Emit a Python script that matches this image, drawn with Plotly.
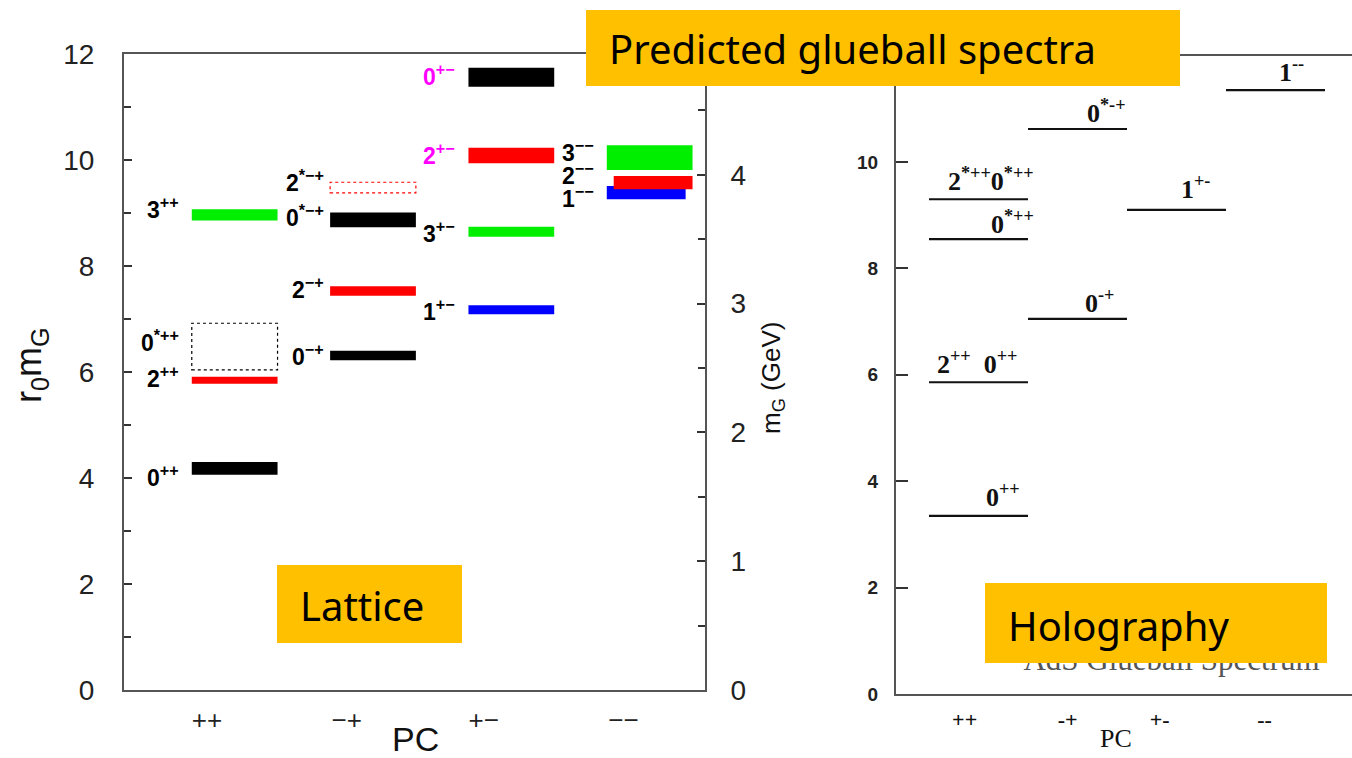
import plotly.graph_objects as go

# ---------------- data ----------------
pc_categories = ["++", "−+", "+−", "−−"]
pc_categories_holo = ["++", "-+", "+-", "--"]

# Lattice spectrum (r0 mG), solid bars: column index, lower and upper edge
lat_labels = ["0<sup>++</sup>", "2<sup>++</sup>", "3<sup>++</sup>",
              "0<sup>−+</sup>", "2<sup>−+</sup>", "0<sup>*−+</sup>",
              "1<sup>+−</sup>", "3<sup>+−</sup>", "2<sup>+−</sup>", "0<sup>+−</sup>",
              "1<sup>−−</sup>", "2<sup>−−</sup>", "3<sup>−−</sup>"]
lat_column = [0, 0, 0, 1, 1, 1, 2, 2, 2, 2, 3, 3, 3]
lat_low = [4.06, 5.78, 8.86, 6.22, 7.44, 8.73, 7.09, 8.55, 9.94, 11.38, 9.26, 9.45, 9.81]
lat_high = [4.30, 5.91, 9.07, 6.40, 7.62, 9.01, 7.26, 8.74, 10.23, 11.74, 9.51, 9.70, 10.28]

# Lattice, uncertain states (dotted boxes)
lat_dot_labels = ["0<sup>*++</sup>", "2<sup>*−+</sup>"]
lat_dot_column = [0, 1]
lat_dot_low = [6.04, 9.38]
lat_dot_high = [6.92, 9.58]

# GeV conversion (r0 in GeV^-1)
r0_gev = 2.43

# Holographic spectrum (r0 mG)
holo_labels = ["0<sup>++</sup>", "2<sup>++</sup>  0<sup>++</sup>", "0<sup>*++</sup>",
               "2<sup>*++</sup>0<sup>*++</sup>", "0<sup>-+</sup>", "0<sup>*-+</sup>",
               "1<sup>+-</sup>", "1<sup>--</sup>"]
holo_column = [0, 0, 0, 0, 1, 1, 2, 3]
holo_mass = [3.35, 5.86, 8.55, 9.30, 7.05, 10.62, 9.10, 11.35]

# ---------------- styles / positions ----------------
W, H = 1352, 758
def px(x): return x / W
def py(y): return 1 - y / H

BLACK, RED, GREEN, BLUE, MAG = "#000000", "#ff0000", "#00ee00", "#0000ff", "#ff00ff"
lat_colors = [BLACK, RED, GREEN, BLACK, RED, BLACK, BLUE, GREEN, RED, BLACK, BLUE, RED, GREEN]
lat_label_colors = [BLACK] * 8 + [MAG, MAG] + [BLACK] * 3
lat_dx = [0, 0, 0, 0, 0, 0, 0, 0, 0, 0, -0.025, 0.025, 0]
lat_w = [0.62] * 10 + [0.57, 0.57, 0.62]
lat_label_y = [3.96, 5.83, 9.02, 6.25, 7.51, 8.87, 7.09, 8.57, 10.04, 11.53, 9.23, 9.66, 10.09]
lat_dot_colors = [BLACK, RED]
lat_dot_label_y = [6.51, 9.53]
lat_label_gap = [0.08, 0.03, 0.08, 0.08]

holo_label_x = [1.25, 0.985, 1.34, 1.13, 2.22, 2.29, 3.19, 4.16]
holo_label_y = [3.65, 6.15, 8.78, 9.59, 7.31, 10.88, 9.45, 11.64]

SANS = "Liberation Sans, Arial, sans-serif"
SERIF = "Liberation Serif, Times New Roman, serif"

fig = go.Figure()

# lattice bars
fig.add_trace(go.Bar(
    x=[c + 1 + d for c, d in zip(lat_column, lat_dx)],
    y=[h - l for l, h in zip(lat_low, lat_high)],
    base=lat_low, width=lat_w,
    marker=dict(color=lat_colors, line=dict(width=0)),
    xaxis="x", yaxis="y", hoverinfo="skip"))

# same states in GeV on the right-hand axis (invisible, keeps the axis drawn)
fig.add_trace(go.Scatter(
    x=[c + 1 for c in lat_column], y=[(l + h) / 2 / r0_gev for l, h in zip(lat_low, lat_high)],
    mode="markers", marker=dict(opacity=0), xaxis="x", yaxis="y2", hoverinfo="skip"))

shapes = []
for c, lo, hi, col in zip(lat_dot_column, lat_dot_low, lat_dot_high, lat_dot_colors):
    shapes.append(dict(type="rect", xref="x", yref="y", x0=c + 1 - 0.31, x1=c + 1 + 0.31,
                       y0=lo, y1=hi, line=dict(color=col, width=1.2, dash="dot"),
                       fillcolor="rgba(0,0,0,0)", layer="below"))

# holography lines
hx, hy = [], []
for c, m in zip(holo_column, holo_mass):
    hx += [c + 1 - 0.5, c + 1 + 0.5, None]
    hy += [m, m, None]
fig.add_trace(go.Scatter(x=hx, y=hy, mode="lines", line=dict(color="#111", width=2.2),
                         xaxis="x3", yaxis="y3", hoverinfo="skip"))

# faint title of the holography plot, partly hidden behind the box
fig.add_trace(go.Scatter(x=[2.95], y=[0.6], mode="text", text=["AdS Glueball Spectrum"],
                         textfont=dict(family=SERIF, size=31, color="#555"),
                         xaxis="x3", yaxis="y3", hoverinfo="skip", cliponaxis=False))

annotations = []
for lab, c, y, col in zip(lat_labels, lat_column, lat_label_y, lat_label_colors):
    annotations.append(dict(x=c + 1 - 0.31 - lat_label_gap[c], y=y, xref="x", yref="y",
                            text=lab, showarrow=False, xanchor="right", yanchor="middle",
                            yshift=4, font=dict(family=SANS, size=23, color=col, weight="bold")))
for lab, c, y, col in zip(lat_dot_labels, lat_dot_column, lat_dot_label_y, [BLACK, BLACK]):
    annotations.append(dict(x=c + 1 - 0.31 - lat_label_gap[c], y=y, xref="x", yref="y",
                            text=lab, showarrow=False, xanchor="right", yanchor="middle",
                            yshift=4, font=dict(family=SANS, size=23, color=col, weight="bold")))
for lab, x, y in zip(holo_labels, holo_label_x, holo_label_y):
    annotations.append(dict(x=x, y=y, xref="x3", yref="y3", text=lab, showarrow=False,
                            xanchor="center", yanchor="middle", yshift=4,
                            font=dict(family=SERIF, size=26, color="#111", weight="bold")))

# axis titles
annotations += [
    dict(x=px(415), y=py(739), xref="paper", yref="paper", text="PC", showarrow=False,
         xanchor="center", yanchor="middle", font=dict(family=SANS, size=34, color="#111")),
    dict(x=px(1116), y=py(738), xref="paper", yref="paper", text="PC", showarrow=False,
         xanchor="center", yanchor="middle", font=dict(family=SERIF, size=26, color="#111")),
    dict(x=px(31), y=py(365), xref="paper", yref="paper", text="r<sub>0</sub>m<sub>G</sub>",
         xanchor="center", yanchor="middle",
         showarrow=False, textangle=-90, font=dict(family=SANS, size=36, color="#111")),
    dict(x=px(772), y=py(378), xref="paper", yref="paper", text="m<sub>G</sub> (GeV)",
         xanchor="center", yanchor="middle",
         showarrow=False, textangle=-90, font=dict(family=SANS, size=26, color="#111")),
]

# highlight boxes
ORANGE = "#ffc000"
boxes = [(586, 10, 1180, 86, "Predicted glueball spectra", 607, 48),
         (277, 565, 462, 643, "Lattice", 298, 605),
         (985, 583, 1327, 663, "Holography", 1006, 625)]
for x0, y0, x1, y1, txt, tx, ty in boxes:
    shapes.append(dict(type="rect", xref="paper", yref="paper", x0=px(x0), x1=px(x1),
                       y0=py(y1), y1=py(y0), fillcolor=ORANGE, line=dict(width=0), layer="above"))
    annotations.append(dict(x=px(tx), y=py(ty), xref="paper", yref="paper", text=txt,
                            showarrow=False, xanchor="left", yanchor="middle",
                            font=dict(family="Noto Sans, Open Sans, sans-serif", size=40, color="#000")))

axis_line = dict(showline=True, linecolor="#555", linewidth=2, showgrid=False, zeroline=False)

fig.update_layout(
    width=W, height=H, margin=dict(l=0, r=0, t=0, b=0, autoexpand=False),
    paper_bgcolor="white", plot_bgcolor="white", showlegend=False, barmode="overlay",
    shapes=shapes, annotations=annotations,
    xaxis=dict(domain=[px(124), px(705)], range=[0.2, 4.4], anchor="y",
               tickvals=[0.8, 1.81, 2.8, 3.81], ticktext=pc_categories, ticks="",
               mirror=True, tickfont=dict(family=SANS, size=26, color="#222"),
               ticklabelstandoff=6, **axis_line),
    yaxis=dict(domain=[py(690), py(54)], range=[0, 12], anchor="x",
               tickvals=list(range(0, 13, 2)), ticks="inside", ticklen=8, tickwidth=1.5,
               tickcolor="#333",
               minor=dict(dtick=1, ticks="inside", ticklen=7, tickwidth=1.5, tickcolor="#333"),
               tickfont=dict(family=SANS, size=28, color="#222"), ticklabelstandoff=22,
               **axis_line),
    yaxis2=dict(overlaying="y", side="right", anchor="x", range=[0, 12 / r0_gev],
                tickvals=[0, 1, 2, 3, 4], ticks="inside", ticklen=8, tickwidth=1.5,
                tickcolor="#333",
                minor=dict(dtick=0.5, ticks="inside", ticklen=7, tickwidth=1.5, tickcolor="#333"),
                tickfont=dict(family=SANS, size=28, color="#222"), ticklabelstandoff=18,
                **axis_line),
    xaxis3=dict(domain=[px(896), 1.0], range=[0.1667, 4.7727], anchor="y3",
                tickvals=[0.86, 1.9, 2.83, 3.89], ticktext=pc_categories_holo, ticks="",
                mirror=True, tickfont=dict(family=SERIF, size=22, color="#111", weight="bold"),
                ticklabelstandoff=5, **axis_line),
    yaxis3=dict(domain=[py(694), py(55.6)], range=[0, 12], anchor="x3",
                tickvals=list(range(0, 13, 2)), ticks="inside", ticklen=12, tickwidth=2,
                tickcolor="#333",
                tickfont=dict(family=SANS, size=19, color="#222", weight="bold"),
                ticklabelstandoff=12, **axis_line),
)

fig.write_html("out.html", config={"displayModeBar": False},
               post_script="document.body.style.margin='0';document.body.style.padding='0';")
